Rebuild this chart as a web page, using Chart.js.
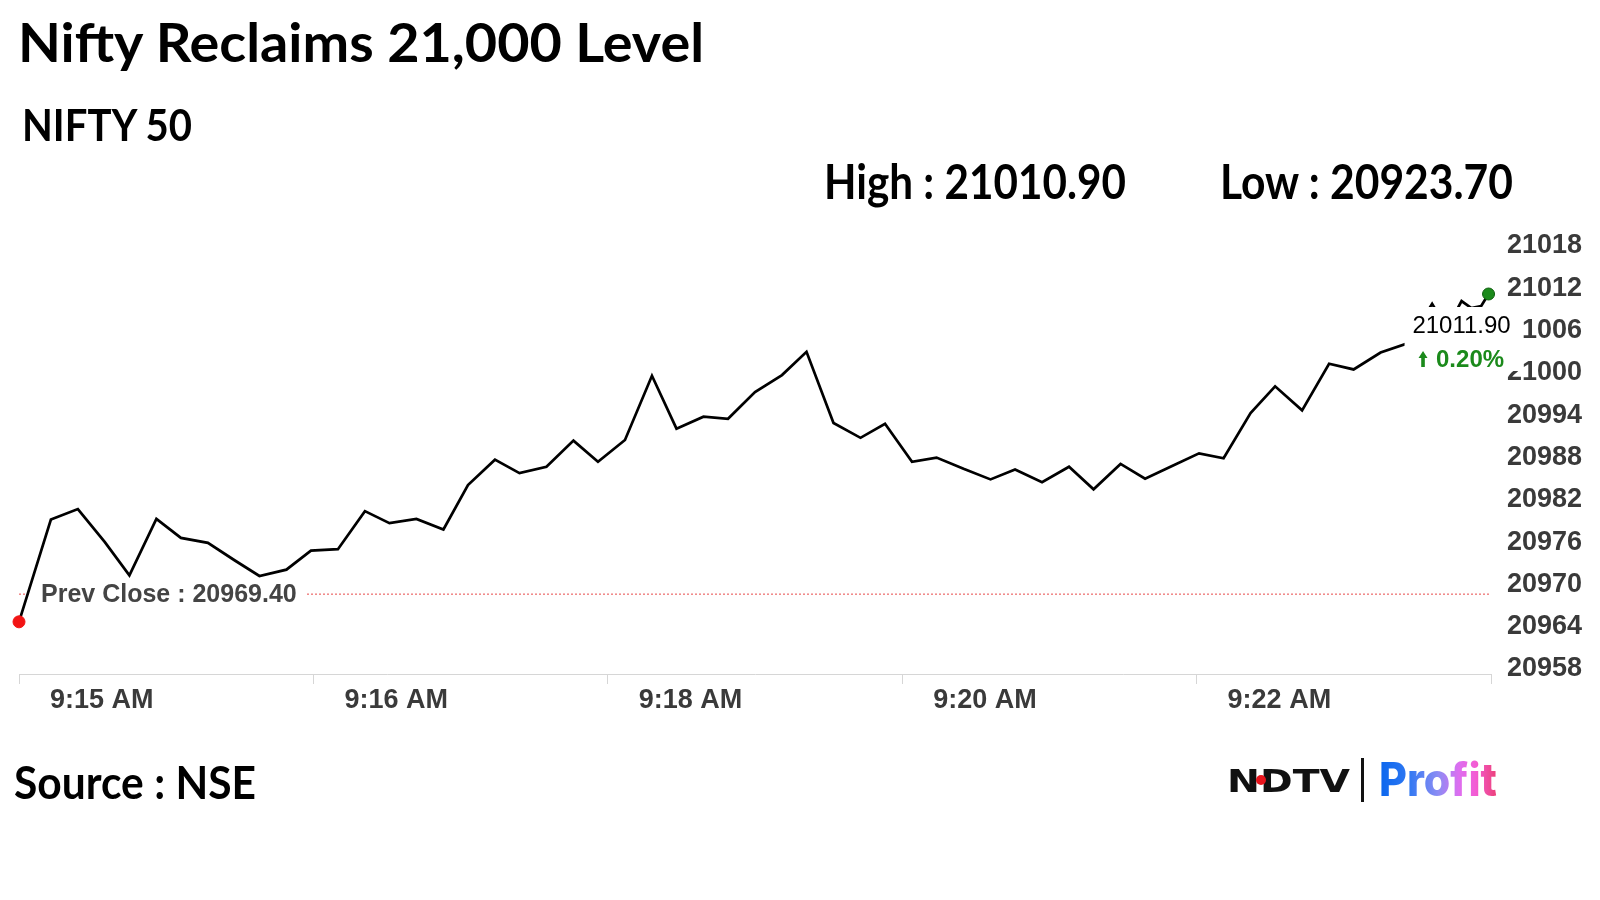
<!DOCTYPE html>
<html>
<head>
<meta charset="utf-8">
<title>Nifty Reclaims 21,000 Level</title>
<script src="https://cdn.jsdelivr.net/npm/chart.js@4.4.1/dist/chart.umd.min.js"></script>
<style>
  html, body { margin: 0; padding: 0; background: #fff; }
  body { width: 1600px; height: 900px; position: relative; overflow: hidden; font-family: Lato, "Noto Sans", sans-serif; }
  #wrap { position: absolute; left: 0; top: 0; width: 1600px; height: 900px; }
  .t { position: absolute; white-space: nowrap; font-weight: 700; line-height: 1; color: #000; transform-origin: 0 0; z-index: 2; }
  #ndtv { font-family: "DejaVu Sans", sans-serif; font-size: 32px; left: 1227px; top: 765px; color: #111; }
  #dot { position: absolute; left: 1256px; top: 775px; width: 10px; height: 10px; border-radius: 50%; background: #e8141c; z-index: 3; }
  #bar { position: absolute; left: 1361px; top: 758px; width: 3px; height: 44px; background: #111; z-index: 2; }
  #profit { font-family: Inter, "Noto Sans", sans-serif; font-weight: 800; font-size: 46px; left: 1379px; top: 756px;
            background: linear-gradient(90deg, #0a66ee 0%, #2f78f2 25%, #8a8cf4 50%, #dd6ef0 68%, #f35cd4 82%, #ec4078 100%);
            -webkit-background-clip: text; background-clip: text; color: transparent; }
</style>
</head>
<body>
<div class="t" data-w="686" style="left:18px; top:15px; font-size:54px">Nifty Reclaims 21,000 Level</div>
<div class="t" data-w="170" style="left:22px; top:102px; font-size:44px">NIFTY 50</div>
<div class="t" id="high" data-w="302" style="left:824px; top:158px; font-size:47px"></div>
<div class="t" id="low" data-w="293" style="left:1220px; top:158px; font-size:47px"></div>
<div class="t" data-w="242" style="left:14px; top:759px; font-size:46px">Source : NSE</div>
<div class="t" id="ndtv" data-w="123">NDTV</div>
<div id="dot"></div>
<div id="bar"></div>
<div class="t" id="profit" data-w="118">Profit</div>

<div id="wrap"><canvas id="nifty_chart"></canvas></div>

<script>
// seconds after the first trade (axis runs 0..600)
let times = [0, 13, 24, 35, 45, 56, 66, 77, 88, 98, 109, 119, 130, 141, 151, 162, 173, 183, 194, 204,
    215, 226, 236, 247, 258, 268, 279, 289, 300, 311, 321, 332, 343, 353, 364, 374, 385, 396, 406, 417,
    428, 438, 449, 459, 470, 481, 491, 502, 512, 523, 534, 544, 555, 566, 576, 582, 588, 592, 596, 599]

let values = [20965.4, 20979.9, 20981.4, 20976.7, 20972.0, 20980.0, 20977.3, 20976.6, 20974.1, 20971.9,
    20972.8, 20975.5, 20975.7, 20981.1, 20979.4, 20980.0, 20978.5, 20984.8, 20988.4, 20986.5,
    20987.4, 20991.1, 20988.1, 20991.2, 21000.3, 20992.8, 20994.5, 20994.2, 20998.0, 21000.4,
    21003.7, 20993.6, 20991.5, 20993.5, 20988.1, 20988.7, 20987.1, 20985.6, 20987.0, 20985.2,
    20987.4, 20984.2, 20987.8, 20985.7, 20987.5, 20989.3, 20988.6, 20995.0, 20998.8, 20995.4,
    21002.0, 21001.2, 21003.6, 21004.9, 21010.5, 21007.0, 21010.9, 21009.9, 21010.2, 21011.9]

let tickLabels = ['9:15 AM', '9:16 AM', '9:18 AM', '9:20 AM', '9:22 AM']

let prevClose = 20969.40
let dayHigh = 21010.90
let dayLow = 20923.70

document.getElementById('high').textContent = 'High : ' + dayHigh.toFixed(2)
document.getElementById('low').textContent = 'Low : ' + dayLow.toFixed(2)

let last = values.length - 1

// dotted prev close line with its label, drawn under the series
let prevClosePlugin = {
    id: 'prevClose',
    beforeDatasetsDraw(chart) {
        let ctx = chart.ctx
        let area = chart.chartArea
        let y = chart.scales.y.getPixelForValue(prevClose)
        ctx.save()
        ctx.strokeStyle = '#e84a4a'
        ctx.lineWidth = 1
        ctx.setLineDash([2, 2])
        ctx.beginPath()
        ctx.moveTo(area.left, y + 0.5)
        ctx.lineTo(area.right, y + 0.5)
        ctx.stroke()
        ctx.setLineDash([])
        ctx.font = 'bold 25px "Liberation Sans", Arial, sans-serif'
        let text = 'Prev Close : ' + prevClose.toFixed(2)
        let w = ctx.measureText(text).width
        ctx.fillStyle = '#fff'
        ctx.fillRect(area.left + 12, y - 14, w + 20, 28)
        ctx.fillStyle = '#444'
        ctx.textBaseline = 'middle'
        ctx.fillText(text, area.left + 22, y + 1)
        ctx.restore()
    }
}

// last price box, drawn over everything
let lastPricePlugin = {
    id: 'lastPrice',
    afterDraw(chart) {
        let ctx = chart.ctx
        let pt = chart.getDatasetMeta(0).data[last]
        let cx = pt.x - 27
        let pct = (values[last] - prevClose) / prevClose * 100
        ctx.save()
        ctx.fillStyle = '#fff'
        ctx.fillRect(cx - 57, pt.y + 13, 118, 64)
        ctx.textBaseline = 'middle'
        ctx.textAlign = 'center'
        ctx.fillStyle = '#000'
        ctx.font = '24px "Liberation Sans", Arial, sans-serif'
        ctx.fillText(values[last].toFixed(2), cx, pt.y + 32)

        // green arrow + change
        let pctText = pct.toFixed(2) + '%'
        ctx.font = 'bold 24px "Liberation Sans", Arial, sans-serif'
        let tw = ctx.measureText(pctText).width
        let x0 = cx - (tw + 17) / 2
        let ay = pt.y + 65
        ctx.fillStyle = '#1b8a1b'
        ctx.beginPath()
        ctx.moveTo(x0 + 4, ay - 8)
        ctx.lineTo(x0 + 8.5, ay - 1)
        ctx.lineTo(x0 + 5.8, ay - 1)
        ctx.lineTo(x0 + 5.8, ay + 8)
        ctx.lineTo(x0 + 2.2, ay + 8)
        ctx.lineTo(x0 + 2.2, ay - 1)
        ctx.lineTo(x0 - 0.5, ay - 1)
        ctx.closePath()
        ctx.fill()
        ctx.textAlign = 'left'
        ctx.fillText(pctText, x0 + 17, ay + 1)
        ctx.restore()
    }
}

let points = times.map((t, i) => ({x: t, y: values[i]}))

let ctx = document.getElementById('nifty_chart').getContext('2d')
let chart = new Chart(ctx, {
    type: 'line',
    data: {
        datasets: [{
            data: points,
            borderColor: '#000',
            borderWidth: 2.7,
            tension: 0,
            clip: false,
            pointRadius: values.map((v, i) => (i === 0 || i === last) ? 6 : 0),
            pointBackgroundColor: values.map((v, i) => i === 0 ? '#f21414' : '#1b8a1b'),
            pointBorderColor: values.map((v, i) => i === 0 ? '#f21414' : '#0d5e0d'),
            pointBorderWidth: 1
        }]
    },
    options: {
        responsive: true,
        maintainAspectRatio: false,
        animation: false,
        events: [],
        layout: {padding: {left: 19, top: 251, right: 0, bottom: 0}},
        plugins: {legend: {display: false}, tooltip: {enabled: false}},
        scales: {
            x: {
                type: 'linear',
                min: 0,
                max: 600,
                afterFit(scale) { scale.height = 226 },
                border: {display: true, color: '#d6d6d6', width: 1},
                grid: {drawOnChartArea: false, drawTicks: true, tickLength: 10, color: '#d6d6d6'},
                ticks: {
                    stepSize: 120,
                    autoSkip: false,
                    maxRotation: 0,
                    align: 'start',
                    labelOffset: 31,
                    padding: 0,
                    color: '#3a3a3a',
                    font: {family: '"Liberation Sans", Arial, sans-serif', size: 27, weight: 'bold'},
                    callback: (v) => tickLabels[Math.round(v / 120)] || ''
                }
            },
            y: {
                position: 'right',
                min: 20958,
                max: 21018,
                afterFit(scale) { scale.width = 109 },
                border: {display: false},
                grid: {display: false, drawTicks: false},
                ticks: {
                    stepSize: 6,
                    padding: 16,
                    labelOffset: -5,
                    color: '#3a3a3a',
                    font: {family: '"Liberation Sans", Arial, sans-serif', size: 27, weight: 'bold'},
                    callback: (v) => String(v)
                }
            }
        }
    },
    plugins: [prevClosePlugin, lastPricePlugin]
})

// squeeze the headings to the widths seen in the picture
function fitTexts() {
    document.querySelectorAll('[data-w]').forEach(el => {
        el.style.transform = 'none'
        let w = el.getBoundingClientRect().width
        el.style.transform = 'scaleX(' + (Number(el.dataset.w) / w) + ')'
    })
}
fitTexts()
document.fonts.ready.then(fitTexts)
</script>
</body>
</html>
